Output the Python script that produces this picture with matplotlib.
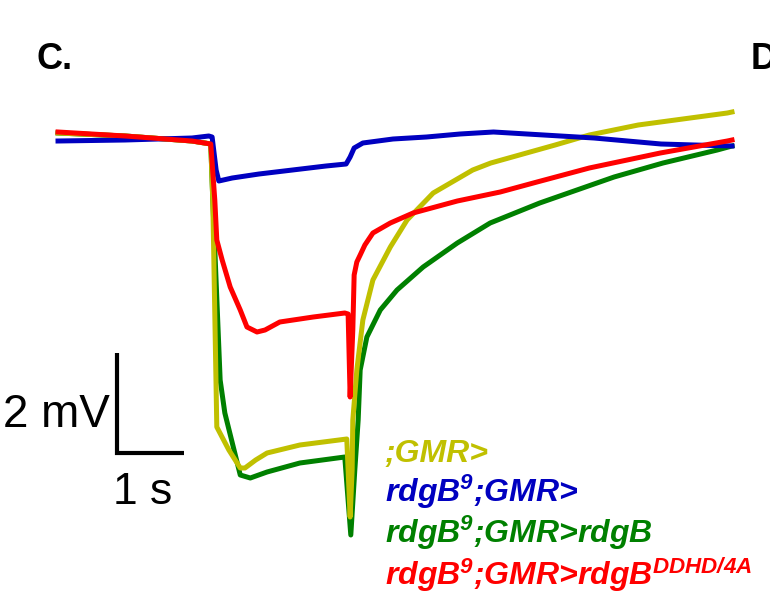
import matplotlib
matplotlib.use("Agg")
import matplotlib.pyplot as plt

# ERG traces: time in s, response in mV (baseline ~ 0)
t_blue = [0, 1.0, 2.0, 2.25, 2.30, 2.36, 2.40, 2.6, 3.0, 3.5, 4.0, 4.3, 4.36, 4.42,
          4.55, 5.0, 5.5, 6.0, 6.5, 7.0, 7.5, 8.0, 8.5, 9.0, 9.5, 10.06]
v_blue = [-0.12, -0.10, -0.06, -0.02, -0.04, -0.70, -0.92, -0.86, -0.78, -0.70, -0.62, -0.58,
          -0.44, -0.26, -0.16, -0.08, -0.04, 0.02, 0.06, 0.02, -0.02, -0.06, -0.12, -0.18,
          -0.20, -0.22]

t_red = [0, 1.0, 2.0, 2.28, 2.34, 2.37, 2.45, 2.57, 2.72, 2.82, 2.97, 3.09, 3.31, 3.81,
         4.28, 4.33, 4.36, 4.40, 4.42, 4.46, 4.51, 4.58, 4.70, 4.96, 5.30, 5.96, 6.60,
         7.15, 7.93, 8.99, 9.99, 10.06]
v_red = [0.06, -0.02, -0.12, -0.18, -1.30, -2.10, -2.50, -3.04, -3.50, -3.84, -3.94, -3.90,
         -3.74, -3.64, -3.56, -3.58, -5.24, -3.90, -2.80, -2.54, -2.40, -2.20, -1.96, -1.76,
         -1.56, -1.32, -1.14, -0.94, -0.66, -0.36, -0.12, -0.10]

t_yellow = [0, 1.0, 2.0, 2.28, 2.31, 2.37, 2.55, 2.72, 2.79, 2.95, 3.12, 3.61, 4.31,
            4.36, 4.39, 4.40, 4.46, 4.55, 4.70, 4.96, 5.21, 5.60, 6.19, 6.46, 7.42, 7.93,
            8.66, 9.99, 10.06]
v_yellow = [0.04, -0.02, -0.12, -0.18, -1.30, -5.84, -6.30, -6.66, -6.66, -6.50, -6.36,
            -6.20, -6.08, -7.64, -6.70, -5.70, -4.70, -3.70, -2.90, -2.24, -1.70, -1.16,
            -0.70, -0.56, -0.20, 0.0, 0.20, 0.44, 0.46]

t_green = [0, 1.0, 2.0, 2.28, 2.31, 2.42, 2.49, 2.72, 2.87, 3.12, 3.61, 4.28, 4.37,
           4.43, 4.48, 4.51, 4.61, 4.81, 5.06, 5.45, 5.96, 6.45, 7.19, 8.30, 9.03, 9.84,
           10.06]
v_green = [0.04, -0.02, -0.12, -0.18, -1.30, -4.90, -5.56, -6.80, -6.86, -6.74, -6.56,
           -6.44, -8.00, -6.70, -5.70, -4.70, -4.04, -3.50, -3.10, -2.64, -2.16, -1.76,
           -1.36, -0.84, -0.56, -0.30, -0.22]

labels = [';GMR>', 'rdgB$^{9}$;GMR>', 'rdgB$^{9}$;GMR>rdgB',
          'rdgB$^{9}$;GMR>rdgB$^{DDHD/4A}$']

YELLOW = '#C0C000'
BLUE = '#0000C0'
GREEN = '#008000'
RED = '#FF0000'
label_colors = [YELLOW, BLUE, GREEN, RED]

plt.rcParams['mathtext.fontset'] = 'custom'
plt.rcParams['mathtext.it'] = 'Liberation Sans:italic:bold'
plt.rcParams['mathtext.rm'] = 'Liberation Sans:italic:bold'
plt.rcParams['mathtext.bf'] = 'Liberation Sans:italic:bold'

W, H = 770, 606
fig = plt.figure(figsize=(W / 100, H / 100), dpi=100)
ax = fig.add_axes([0, 0, 1, 1])
ax.set_xlim(-0.866, 10.627)
ax.set_ylim(-9.42, 2.70)
ax.axis('off')

lw = 3.6
ax.plot(t_green, v_green, color=GREEN, lw=lw, solid_joinstyle='round')
ax.plot(t_yellow, v_yellow, color=YELLOW, lw=lw, solid_joinstyle='round')
ax.plot(t_blue, v_blue, color=BLUE, lw=lw, solid_joinstyle='round')
ax.plot(t_red, v_red, color=RED, lw=lw, solid_joinstyle='round')

# scale bar: 1 s x 2 mV
bar_t0, bar_v0 = 0.88, -6.36
bar_s, bar_mv = 1.0, 2.0
ax.plot([bar_t0, bar_t0, bar_t0 + bar_s], [bar_v0 + bar_mv, bar_v0, bar_v0],
        color='black', lw=3.0, solid_joinstyle='miter', solid_capstyle='butt')


def fx(px):
    return px / W


def fy(py):
    return 1 - py / H


fig.text(fx(110), fy(427), '2 mV', fontsize=33, family='Liberation Sans',
         ha='right', va='baseline')
fig.text(fx(113), fy(504), '1 s', fontsize=32, family='Liberation Sans',
         ha='left', va='baseline')
fig.text(fx(36), fy(69), 'C.', fontsize=26, family='Liberation Sans', weight='bold',
         ha='left', va='baseline')
fig.text(fx(751), fy(69), 'D', fontsize=26, family='Liberation Sans', weight='bold',
         ha='left', va='baseline')

baselines = [462, 502, 543, 585]
for lab, col, b in zip(labels, label_colors, baselines):
    fig.text(fx(385), fy(b), lab, fontsize=23, family='Liberation Sans',
             weight='bold', style='italic', color=col, ha='left', va='baseline')

fig.savefig('out.png', dpi=100)
